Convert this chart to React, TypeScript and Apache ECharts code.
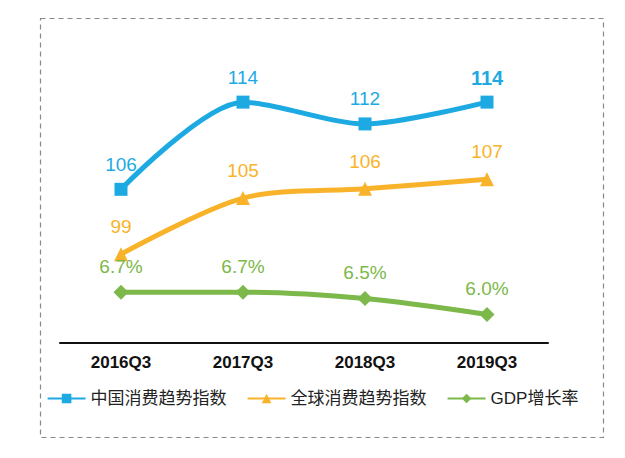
import React, { useEffect, useRef } from "react";
import * as echarts from "echarts";

const categories = ["2016Q3", "2017Q3", "2018Q3", "2019Q3"];
const chinaIndex = [106, 114, 112, 114];
const globalIndex = [99, 105, 106, 107];
const gdpGrowth = [6.7, 6.7, 6.5, 6.0];
const seriesNames = ["中国消费趋势指数", "全球消费趋势指数", "GDP增长率"];

const BLUE = "#1daae2";
const ORANGE = "#f9b32a";
const GREEN = "#7cb84a";
const FONT = "Arial, 'Liberation Sans', 'Noto Sans CJK SC', sans-serif";

export default function App() {
  const ref = useRef<HTMLDivElement>(null);
  useEffect(() => {
    document.body.style.margin = "0";
    const chart = echarts.init(ref.current!, null, { renderer: "svg" });
    const hiddenAxis = (min: number, max: number) => ({
      type: "value",
      min,
      max,
      show: false,
      splitLine: { show: false },
    });
    chart.setOption({
      animation: false,
      backgroundColor: "#fff",
      textStyle: { fontFamily: FONT },
      graphic: [
        {
          type: "rect",
          shape: { x: 40.5, y: 18.5, width: 563, height: 419 },
          style: { fill: "none", stroke: "#888", lineWidth: 1.2, lineDash: [5, 4] },
          silent: true,
        },
      ],
      grid: { left: 60, right: 77, top: 40, bottom: 115 },
      xAxis: {
        type: "category",
        data: categories,
        boundaryGap: true,
        axisLine: { lineStyle: { color: "#111", width: 2 } },
        axisTick: { show: false },
        axisLabel: { color: "#111", fontWeight: "bold", fontSize: 17, margin: 11, fontFamily: FONT },
      },
      yAxis: [hiddenAxis(91.9, 119.7), hiddenAxis(89.5, 121.9), hiddenAxis(5.1, 14.65)],
      legend: {
        bottom: 46,
        left: "center",
        itemWidth: 38,
        itemHeight: 12,
        itemGap: 20,
        textStyle: { fontSize: 17, color: "#222", fontFamily: FONT },
        data: seriesNames,
      },
      series: [
        {
          name: seriesNames[0],
          type: "line",
          yAxisIndex: 0,
          data: chinaIndex.map((v, i) =>
            i === chinaIndex.length - 1
              ? { value: v, label: { fontWeight: "bold", fontSize: 20, distance: 8 } }
              : v
          ),
          smooth: 0.28,
          symbol: "rect",
          symbolSize: 13,
          color: BLUE,
          lineStyle: { width: 5, color: BLUE },
          label: { show: true, position: "top", distance: 9, color: BLUE, fontSize: 19, fontFamily: FONT },
        },
        {
          name: seriesNames[1],
          type: "line",
          yAxisIndex: 1,
          data: globalIndex,
          smooth: 0.3,
          symbol: "triangle",
          symbolSize: 14,
          color: ORANGE,
          lineStyle: { width: 5, color: ORANGE },
          label: { show: true, position: "top", distance: 11, color: ORANGE, fontSize: 19, fontFamily: FONT },
        },
        {
          name: seriesNames[2],
          type: "line",
          yAxisIndex: 2,
          data: gdpGrowth,
          smooth: 0.3,
          symbol: "diamond",
          symbolSize: 15,
          color: GREEN,
          lineStyle: { width: 5, color: GREEN },
          label: {
            show: true,
            position: "top",
            distance: 9,
            color: GREEN,
            fontSize: 19,
            fontFamily: FONT,
            formatter: (p: any) => p.value.toFixed(1) + "%",
          },
        },
      ],
    });
    return () => chart.dispose();
  }, []);
  return <div ref={ref} style={{ width: 625, height: 458 }} />;
}
